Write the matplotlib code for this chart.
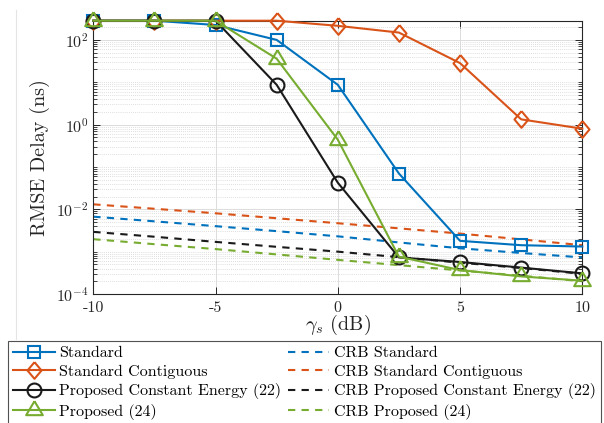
import matplotlib
matplotlib.use("Agg")
import matplotlib.pyplot as plt
from matplotlib.lines import Line2D
from matplotlib.ticker import FixedLocator, NullFormatter

plt.rcParams['font.family'] = ['cmr10', 'DejaVu Serif']
plt.rcParams['mathtext.fontset'] = 'cm'
plt.rcParams['axes.unicode_minus'] = False
plt.rcParams['axes.formatter.use_mathtext'] = True

# ---------------- data ----------------
snr_db = [-10, -7.5, -5, -2.5, 0, 2.5, 5, 7.5, 10]

standard = [284, 284, 225, 100, 8.7, 0.070, 1.8e-3, 1.42e-3, 1.32e-3]
standard_contig = [284, 284, 284, 284, 215, 149, 28.3, 1.33, 0.80]
proposed_ce = [284, 284, 284, 8.7, 0.0425, 7.3e-4, 5.7e-4, 4.2e-4, 3.07e-4]
proposed_24 = [284, 284, 284, 36, 0.44, 7.6e-4, 3.67e-4, 2.6e-4, 2.06e-4]

crb_standard = [6.7e-3, 5.2e-3, 4.0e-3, 3.05e-3, 2.3e-3, 1.65e-3, 1.2e-3, 9.3e-4, 7.3e-4]
crb_contig = [1.31e-2, 1.03e-2, 8.05e-3, 6.15e-3, 4.69e-3, 3.55e-3, 2.67e-3, 1.95e-3, 1.42e-3]
crb_ce = [2.93e-3, 2.25e-3, 1.7e-3, 1.3e-3, 1.0e-3, 7.4e-4, 5.5e-4, 4.1e-4, 3.0e-4]
crb_24 = [1.97e-3, 1.5e-3, 1.15e-3, 8.6e-4, 6.4e-4, 4.8e-4, 3.6e-4, 2.7e-4, 2.0e-4]

labels_solid = ['Standard', 'Standard Contiguous', 'Proposed Constant Energy (22)', 'Proposed (24)']
labels_crb = ['CRB Standard', 'CRB Standard Contiguous', 'CRB Proposed Constant Energy (22)', 'CRB Proposed (24)']

x_ticks = [-10, -5, 0, 5, 10]
x_ticklabels = ['-10', '-5', '0', '5', '10']
y_ticks = [1e-4, 1e-2, 1e0, 1e2]
y_ticklabels = ['$10^{-4}$', '$10^{-2}$', '$10^{0}$', '$10^{2}$']

# ---------------- style ----------------
c_blue = '#0072BD'
c_orange = '#D95319'
c_black = '#1a1a1a'
c_green = '#77AC30'

diamond = [(0, 8.3), (7, 0), (0, -8.3), (-7, 0), (0, 8.3)]
triangle = [(0, 9.33), (8.35, -4.67), (-8.35, -4.67), (0, 9.33)]

fig = plt.figure(figsize=(6.04, 4.23), dpi=100)
ax = fig.add_axes([93.3 / 604, 1 - 294 / 423, (582.3 - 93.3) / 604, (294 - 20.7) / 423])

lw = 1.5
dash = (0, (3.5, 3))
# CRB curves
crb_handles = []
for vals, col, lab in zip([crb_standard, crb_contig, crb_ce, crb_24],
                          [c_blue, c_orange, c_black, c_green], labels_crb):
    h, = ax.plot(snr_db, vals, linestyle=dash, color=col, lw=lw, label=lab, zorder=2)
    crb_handles.append(h)

solid_handles = []
specs = [(standard, c_blue, 's', 8),
         (standard_contig, c_orange, diamond, 12),
         (proposed_ce, c_black, 'o', 10),
         (proposed_24, c_green, triangle, 13.4)]
for (vals, col, mk, ms), lab in zip(specs, labels_solid):
    h, = ax.plot(snr_db, vals, '-', color=col, lw=lw, marker=mk, markersize=ms,
                 markerfacecolor='none', markeredgecolor=col, markeredgewidth=1.5,
                 label=lab, zorder=3, clip_on=False)
    solid_handles.append(h)

ax.set_yscale('log')
ax.set_xlim(-10, 10)
ax.set_ylim(1e-4, 284)

ax.set_xticks(x_ticks)
ax.set_xticklabels(x_ticklabels)
ax.set_yticks(y_ticks)
ax.set_yticklabels(y_ticklabels)
minors = []
for e in range(-4, 3):
    for k in range(1, 10):
        v = k * 10.0 ** e
        if v in y_ticks or v > 284:
            continue
        minors.append(v)
ax.yaxis.set_minor_locator(FixedLocator(minors))
ax.yaxis.set_minor_formatter(NullFormatter())
ax.xaxis.set_minor_locator(FixedLocator([]))

axcol = '#262626'
for s in ax.spines.values():
    s.set_color(axcol)
    s.set_linewidth(0.8)
ax.tick_params(which='both', direction='in', top=True, right=True, colors=axcol,
               labelsize=11.5, labelcolor='#262626')
ax.tick_params(which='major', length=5, width=0.7)
ax.tick_params(which='minor', length=2.8, width=0.6)
ax.tick_params(axis='x', pad=5)

ax.grid(True, which='major', color='#dcdcdc', lw=0.7, linestyle='-')
ax.grid(True, which='minor', axis='y', color='#d4d4d4', lw=0.6, linestyle=(0, (1, 1.5)))
ax.set_axisbelow(True)

ax.set_xlabel(r'$\gamma_s$ (dB)', fontsize=14.5, labelpad=-1, color='#262626')
ax.set_ylabel('RMSE Delay (ns)', fontsize=14.5, labelpad=4, color='#262626')

leg = fig.legend(solid_handles + crb_handles, labels_solid + labels_crb,
                 ncol=2, loc='upper left', bbox_to_anchor=(8 / 604, 1 - 341 / 423),
                 fontsize=11.5, frameon=True, fancybox=False, edgecolor='#262626',
                 handlelength=2.6, handletextpad=0.3, columnspacing=0.4,
                 labelspacing=0.28, borderpad=0.32, borderaxespad=0)
leg.get_frame().set_linewidth(0.8)

# faint figure border artefact on the left
fig.add_artist(Line2D([15.7 / 604, 15.7 / 604], [1 - 10 / 423, 1 - 339 / 423],
                      transform=fig.transFigure, color='#e4e4e4', lw=0.8))

fig.savefig('out.png', dpi=100)
